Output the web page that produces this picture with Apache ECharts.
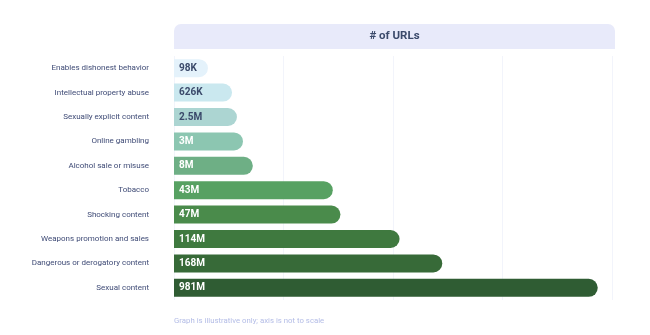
<!DOCTYPE html>
<html><head><meta charset="utf-8">
<script src="https://cdn.jsdelivr.net/npm/echarts@6/dist/echarts.min.js"></script>
<style>html,body{margin:0;padding:0;background:#fff}#c{width:650px;height:335px}</style>
</head><body><div id="c"></div>
<script>
const categories = ["Enables dishonest behavior","Intellectual property abuse","Sexually explicit content","Online gambling","Alcohol sale or misuse","Tobacco","Shocking content","Weapons promotion and sales","Dangerous or derogatory content","Sexual content"];
const valueLabels = ["98K","626K","2.5M","3M","8M","43M","47M","114M","168M","981M"];
// illustrative bar lengths (axis not to scale)
const barLengths = [0.31,0.53,0.575,0.63,0.72,1.45,1.52,2.06,2.45,3.87];
const barColors = ["#e4f2fb","#cae8ef","#acd5d2","#8cc6b1","#6eaf85","#57a162","#4a8b4b","#3f793f","#376a38","#2f5c33"];
const labelColors = ["#3b4a6b","#3b4a6b","#3b4a6b","#ffffff","#ffffff","#ffffff","#ffffff","#ffffff","#ffffff","#ffffff"];
const title = "# of URLs";
const note = "Graph is illustrative only; axis is not to scale";

const chart = echarts.init(document.getElementById('c'));
chart.setOption({
  animation:false,
  textStyle:{fontFamily:"Roboto"},
  grid:{left:174,right:38,top:56,bottom:35,containLabel:false},
  graphic:[
    {type:'rect',left:174,top:24,shape:{width:441,height:25,r:[7,7,0,0]},style:{fill:'#e8eafa'},z:-1},
    {type:'text',x:174+441/2,y:30,style:{text:title,fontFamily:'Roboto',fontSize:11.5,fontWeight:'bold',fill:'#3b4a6b',textAlign:'center'},z:2},
    {type:'text',x:174,y:317,style:{text:note,fontFamily:'Roboto',fontSize:7.8,fill:'#b3bce6'}}
  ],
  xAxis:{type:'value',min:0,max:4,interval:1,axisLabel:{show:false},axisLine:{show:false},axisTick:{show:false},
    splitLine:{show:true,lineStyle:{color:'#f2f4fb',width:1}}},
  yAxis:{type:'category',data:categories,inverse:true,axisLine:{show:false},axisTick:{show:false},
    axisLabel:{color:'#3f4b76',fontSize:8,margin:25,fontFamily:"Roboto"}},
  series:[{
    type:'bar',barWidth:18,
    data:barLengths.map((v,i)=>({value:v,itemStyle:{color:barColors[i],borderRadius:[0,9,9,0]},
      label:{color:labelColors[i]}})),
    label:{show:true,position:'insideLeft',distance:5,fontSize:10,fontWeight:'bold',fontFamily:'Roboto',
      formatter:p=>valueLabels[p.dataIndex]}
  }]
});
</script></body></html>
